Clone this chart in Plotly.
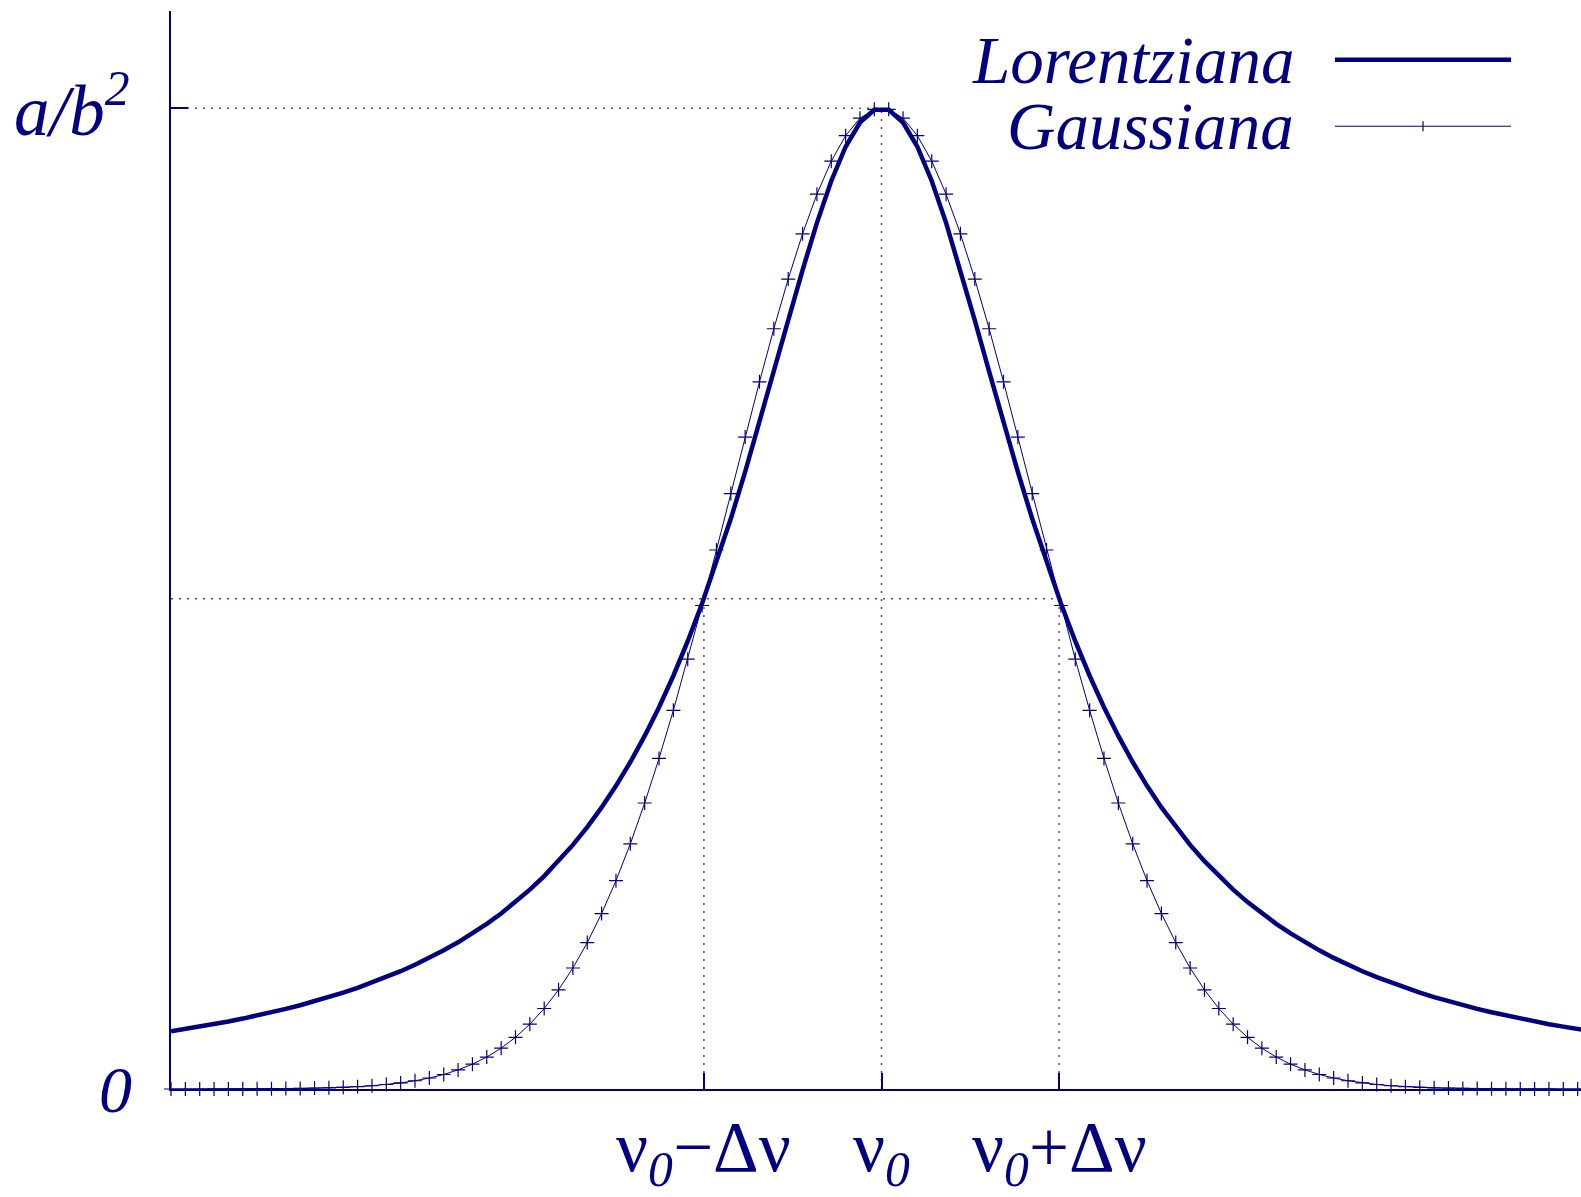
import plotly.graph_objects as go

# ---- data (units of Δν on x, a/b² on y) ----
x_nu = [-4.0000, -3.9192, -3.8384, -3.7576, -3.6768, -3.5960, -3.5152, -3.4343, -3.3535, -3.2727,
        -3.1919, -3.1111, -3.0303, -2.9495, -2.8687, -2.7879, -2.7071, -2.6263, -2.5455, -2.4646,
        -2.3838, -2.3030, -2.2222, -2.1414, -2.0606, -1.9798, -1.8990, -1.8182, -1.7374, -1.6566,
        -1.5758, -1.4949, -1.4141, -1.3333, -1.2525, -1.1717, -1.0909, -1.0101, -0.9293, -0.8485,
        -0.7677, -0.6869, -0.6061, -0.5253, -0.4444, -0.3636, -0.2828, -0.2020, -0.1212, -0.0404,
        0.0404, 0.1212, 0.2020, 0.2828, 0.3636, 0.4444, 0.5253, 0.6061, 0.6869, 0.7677,
        0.8485, 0.9293, 1.0101, 1.0909, 1.1717, 1.2525, 1.3333, 1.4141, 1.4949, 1.5758,
        1.6566, 1.7374, 1.8182, 1.8990, 1.9798, 2.0606, 2.1414, 2.2222, 2.3030, 2.3838,
        2.4646, 2.5455, 2.6263, 2.7071, 2.7879, 2.8687, 2.9495, 3.0303, 3.1111, 3.1919,
        3.2727, 3.3535, 3.4343, 3.5152, 3.5960, 3.6768, 3.7576, 3.8384, 3.9192, 4.0000]

lorentz = [0.0588, 0.0611, 0.0636, 0.0661, 0.0689, 0.0718, 0.0749, 0.0782, 0.0817, 0.0854,
           0.0894, 0.0936, 0.0982, 0.1031, 0.1084, 0.1140, 0.1201, 0.1266, 0.1337, 0.1414,
           0.1496, 0.1586, 0.1684, 0.1790, 0.1906, 0.2033, 0.2171, 0.2323, 0.2489, 0.2671,
           0.2871, 0.3091, 0.3334, 0.3600, 0.3893, 0.4214, 0.4566, 0.4950, 0.5366, 0.5814,
           0.6292, 0.6795, 0.7314, 0.7838, 0.8351, 0.8832, 0.9259, 0.9608, 0.9855, 0.9984,
           0.9984, 0.9855, 0.9608, 0.9259, 0.8832, 0.8351, 0.7838, 0.7314, 0.6795, 0.6292,
           0.5814, 0.5366, 0.4950, 0.4566, 0.4214, 0.3893, 0.3600, 0.3334, 0.3091, 0.2871,
           0.2671, 0.2489, 0.2323, 0.2171, 0.2033, 0.1906, 0.1790, 0.1684, 0.1586, 0.1496,
           0.1414, 0.1337, 0.1266, 0.1201, 0.1140, 0.1084, 0.1031, 0.0982, 0.0936, 0.0894,
           0.0854, 0.0817, 0.0782, 0.0749, 0.0718, 0.0689, 0.0661, 0.0636, 0.0611, 0.0588]

gauss = [0.0000, 0.0000, 0.0000, 0.0001, 0.0001, 0.0001, 0.0002, 0.0003, 0.0004, 0.0006,
         0.0009, 0.0012, 0.0017, 0.0024, 0.0033, 0.0046, 0.0062, 0.0084, 0.0112, 0.0148,
         0.0195, 0.0253, 0.0326, 0.0416, 0.0527, 0.0661, 0.0821, 0.1011, 0.1234, 0.1493,
         0.1789, 0.2124, 0.2500, 0.2916, 0.3371, 0.3861, 0.4383, 0.4930, 0.5496, 0.6071,
         0.6647, 0.7211, 0.7752, 0.8259, 0.8720, 0.9124, 0.9461, 0.9721, 0.9899, 0.9989,
         0.9989, 0.9899, 0.9721, 0.9461, 0.9124, 0.8720, 0.8259, 0.7752, 0.7211, 0.6647,
         0.6071, 0.5496, 0.4930, 0.4383, 0.3861, 0.3371, 0.2916, 0.2500, 0.2124, 0.1789,
         0.1493, 0.1234, 0.1011, 0.0821, 0.0661, 0.0527, 0.0416, 0.0326, 0.0253, 0.0195,
         0.0148, 0.0112, 0.0084, 0.0062, 0.0046, 0.0033, 0.0024, 0.0017, 0.0012, 0.0009,
         0.0006, 0.0004, 0.0003, 0.0002, 0.0001, 0.0001, 0.0001, 0.0000, 0.0000, 0.0000]

series_names = ["Lorentziana", "Gaussiana"]
x_tickvals = [-1, 0, 1]
x_ticktext = ["ν<sub><i>0</i></sub>−Δν", "ν<sub><i>0</i></sub>", "ν<sub><i>0</i></sub>+Δν"]
y_tickvals = [0, 1]
y_ticktext = ["<i>0</i>", "<i>a/b<sup>2</sup></i>"]
peak_value = 1.0
half_value = 0.5

NAVY = "#000080"
GUIDE = "rgba(0,0,128,0.7)"
FONT = "Liberation Serif"

fig = go.Figure()
fig.add_trace(go.Scatter(x=x_nu, y=lorentz, mode="lines", name=series_names[0],
                         line=dict(color=NAVY, width=4.5), showlegend=False))
fig.add_trace(go.Scatter(x=x_nu, y=gauss, mode="lines+markers", name=series_names[1],
                         line=dict(color=NAVY, width=1),
                         marker=dict(symbol="cross-thin", size=10,
                                     line=dict(color=NAVY, width=1.2)),
                         cliponaxis=False, showlegend=False))

# dotted guide lines
guide = dict(color=GUIDE, width=1.5, dash="2px,6px")
fig.add_shape(type="line", xref="x", yref="y", x0=-4, x1=0, y0=peak_value, y1=peak_value, line=guide, layer="below")
fig.add_shape(type="line", xref="x", yref="y", x0=0, x1=0, y0=0, y1=peak_value, line=guide, layer="below")
fig.add_shape(type="line", xref="x", yref="y", x0=-4, x1=x_tickvals[2], y0=half_value, y1=half_value, line=guide, layer="below")
for xv in (x_tickvals[0], x_tickvals[2]):
    fig.add_shape(type="line", xref="x", yref="y", x0=xv, x1=xv, y0=0, y1=half_value, line=guide, layer="below")

# x tick labels
for xv, txt in zip(x_tickvals, x_ticktext):
    fig.add_annotation(x=xv, y=0, xref="x", yref="y", text=txt, showarrow=False,
                       xanchor="center", yanchor="top", yshift=-17,
                       font=dict(family=FONT, size=71, color=NAVY))
# y tick labels
fig.add_annotation(x=0, y=y_tickvals[0], xref="paper", yref="y", text=y_ticktext[0], showarrow=False,
                   xanchor="right", yanchor="middle", xshift=-37,
                   font=dict(family=FONT, size=66, color=NAVY))
fig.add_annotation(x=0, y=y_tickvals[1], xref="paper", yref="y", text=y_ticktext[1], showarrow=False,
                   xanchor="right", yanchor="middle", xshift=-39, yshift=3,
                   font=dict(family=FONT, size=71, color=NAVY))

# manual legend (text on the left, sample on the right)
leg_text_x = 0.798
leg_line_x0, leg_line_x1 = 0.8255, 0.9504
leg_y = [0.9548, 0.8931]
for name, yy in zip(series_names, leg_y):
    fig.add_annotation(x=leg_text_x, y=yy, xref="paper", yref="paper", text="<i>" + name + "</i>",
                       showarrow=False, xanchor="right", yanchor="middle",
                       font=dict(family=FONT, size=67, color=NAVY))
fig.add_shape(type="line", xref="paper", yref="paper", x0=leg_line_x0, x1=leg_line_x1,
              y0=leg_y[0], y1=leg_y[0], line=dict(color=NAVY, width=4.5))
fig.add_shape(type="line", xref="paper", yref="paper", x0=leg_line_x0, x1=leg_line_x1,
              y0=leg_y[1], y1=leg_y[1], line=dict(color=NAVY, width=1))
xm = (leg_line_x0 + leg_line_x1) / 2
fig.add_shape(type="line", xref="paper", yref="paper", xsizemode="pixel", ysizemode="pixel",
              xanchor=xm, yanchor=leg_y[1], x0=0, x1=0, y0=-5, y1=5, line=dict(color=NAVY, width=1.2))

fig.update_xaxes(range=[-4, 3.938], showgrid=False, zeroline=False,
                 showline=True, linecolor=NAVY, linewidth=2,
                 ticks="inside", ticklen=16, tickwidth=2, tickcolor=NAVY,
                 tickvals=x_tickvals, showticklabels=False)
fig.update_yaxes(range=[0, 1.0992], showgrid=False, zeroline=False,
                 showline=True, linecolor=NAVY, linewidth=2,
                 ticks="inside", ticklen=17, tickwidth=2, tickcolor=NAVY,
                 tickvals=y_tickvals, showticklabels=False)
fig.update_layout(width=1581, height=1197, margin=dict(l=171, r=0, t=11, b=108),
                  plot_bgcolor="white", paper_bgcolor="white", showlegend=False)
# remove the browser's default 8px page margin so the figure fills the window exactly
fig.write_html("out.html", config={"displayModeBar": False},
               post_script="document.body.style.margin='0';document.body.style.overflow='hidden';")
